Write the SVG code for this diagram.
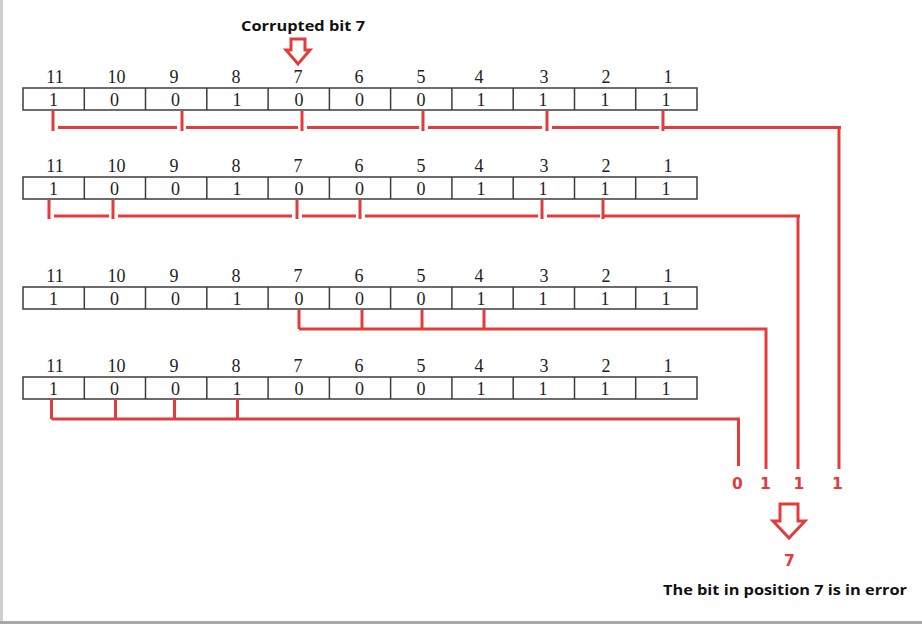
<svg xmlns="http://www.w3.org/2000/svg" width="922" height="624" viewBox="0 0 922 624">
<style>
.cell{fill:#fff;stroke:#3c3c3c;stroke-width:1.5}
.num{font-family:"Liberation Serif",serif;font-size:18px;fill:#222;text-anchor:middle}
.red{stroke:#e23c3c;stroke-width:3;fill:none;stroke-linecap:butt}
.lbl{font-family:"DejaVu Sans",sans-serif;font-weight:bold;font-size:15.5px;fill:#e23c3c;text-anchor:middle}
.cap{font-family:"Open Sans","DejaVu Sans",sans-serif;font-weight:bold;fill:#111}
.arrow{fill:#fff;stroke:#e23c3c;stroke-width:3;stroke-linejoin:miter}
</style>
<defs>
<g id="rowcells">
<rect class="cell" x="23" y="0" width="674" height="22"/>
<path d="M84.3 0V22M145.5 0V22M206.8 0V22M268.1 0V22M329.4 0V22M390.6 0V22M451.9 0V22M513.2 0V22M574.5 0V22M635.7 0V22" stroke="#3c3c3c" stroke-width="1.5"/>
<g class="num">
<text x="55" y="-5.5">11</text><text x="116.5" y="-5.5">10</text><text x="174" y="-5.5">9</text><text x="236" y="-5.5">8</text><text x="298" y="-5.5">7</text><text x="359" y="-5.5">6</text><text x="421" y="-5.5">5</text><text x="479" y="-5.5">4</text><text x="544" y="-5.5">3</text><text x="606" y="-5.5">2</text><text x="668" y="-5.5">1</text>
<text x="53.5" y="18">1</text><text x="114.5" y="18">0</text><text x="175.5" y="18">0</text><text x="237" y="18">1</text><text x="299" y="18">0</text><text x="359.5" y="18">0</text><text x="421" y="18">0</text><text x="481" y="18">1</text><text x="543" y="18">1</text><text x="605" y="18">1</text><text x="666" y="18">1</text>
</g>
</g>
</defs>
<rect x="0" y="0" width="922" height="624" fill="#fff"/>
<rect x="0" y="0" width="3" height="624" fill="#cfcfcf"/>
<rect x="0" y="621" width="922" height="3" fill="#a8a8a8"/>

<g id="title">
<text class="cap" x="241" y="31" font-size="15" textLength="124" lengthAdjust="spacingAndGlyphs">Corrupted bit 7</text>
<path class="arrow" d="M291 39H305V50H310L298 64L286 50H291Z"/>
</g>

<g id="row1"><use href="#rowcells" y="88"/></g>
<g id="row2"><use href="#rowcells" y="177"/></g>
<g id="row3"><use href="#rowcells" y="287"/></g>
<g id="row4"><use href="#rowcells" y="377"/></g>

<g id="connectors" class="red">
<path d="M53 111V131M182 111V131M302 111V131M423 111V131M547 111V131M663 111V131"/>
<path d="M58 127.5H177M186 127.5H298M307 127.5H419M428 127.5H542M552 127.5H659M663 127.5H841M839 126V469"/>
<path d="M49 200V219M113 200V219M297 200V219M360 200V219M542 200V219M603 200V219"/>
<path d="M54 216H109M118 216H292M302 216H356M365 216H538M547 216H600M603 216H800M798 214.5V469"/>
<path d="M299 310V329M362 310V329M422 310V329M484 310V329"/>
<path d="M299 329H767M766 327.5V469"/>
<path d="M51.5 399V419M115.5 399V419M174.5 399V419M237.5 399V419"/>
<path d="M51.5 419H740M738.5 417.5V466"/>
</g>

<g id="result">
<text class="lbl" x="737.5" y="488.5">0</text>
<text class="lbl" x="765.5" y="488.5">1</text>
<text class="lbl" x="799" y="488.5">1</text>
<text class="lbl" x="837.5" y="488.5">1</text>
<path class="arrow" d="M780 504H798V521H805L789 538L773 521H780Z"/>
<text class="lbl" x="789.5" y="565.5" font-size="20">7</text>
<text class="cap" x="663" y="595" font-size="14.5" textLength="244" lengthAdjust="spacingAndGlyphs">The bit in position 7 is in error</text>
</g>
</svg>
